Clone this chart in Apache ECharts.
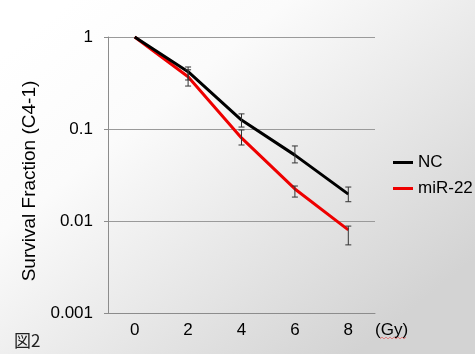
<!DOCTYPE html>
<html>
<head>
<meta charset="utf-8">
<script src="https://cdn.jsdelivr.net/npm/echarts@6/dist/echarts.min.js"></script>
<style>
  html, body { margin: 0; padding: 0; }
  #chart { width: 475px; height: 354px; }
</style>
</head>
<body>
<div id="chart"></div>
<script>
// dose (Gy)
const doses = ['0', '2', '4', '6', '8'];
// survival fraction
const ncMean = [1, 0.42, 0.125, 0.052, 0.0196];
const ncLow = [null, 0.341, 0.105, 0.0428, 0.0162];
const ncHigh = [null, 0.472, 0.146, 0.0654, 0.0234];
const mirMean = [1, 0.37, 0.08, 0.0223, 0.008];
const mirLow = [null, 0.293, 0.067, 0.0182, 0.0055];
const mirHigh = [null, 0.44, 0.0976, 0.024, 0.0088];

const font = 'Liberation Sans, Arial, sans-serif';

const errData = [];
doses.forEach((d, i) => {
    if (ncLow[i] != null) errData.push([i, ncLow[i], ncHigh[i]]);
    if (mirLow[i] != null) errData.push([i, mirLow[i], mirHigh[i]]);
});

// spell-check squiggle under "Gy"
const squiggle = [];
for (let x = 380, k = 0; x <= 407; x += 2, k++) {
    squiggle.push([x, k % 2 ? 337 : 339]);
}

const myChart = echarts.init(document.getElementById('chart'));
myChart.setOption({
    backgroundColor: new echarts.graphic.LinearGradient(0.15, 0, 0.75, 1, [
        { offset: 0, color: '#ffffff' },
        { offset: 0.3, color: '#fbfbfb' },
        { offset: 1, color: '#d3d3d3' }
    ]),
    animation: false,
    grid: {
        left: 108,
        right: 100,
        top: 37,
        bottom: 41
    },
    legend: {
        orient: 'vertical',
        left: 388,
        top: 149,
        itemGap: 9,
        itemWidth: 20,
        itemHeight: 3,
        icon: 'rect',
        textStyle: { fontFamily: font, fontSize: 17, color: '#000' },
        data: ['NC', 'miR-22']
    },
    xAxis: {
        type: 'category',
        data: doses,
        boundaryGap: true,
        axisLine: { lineStyle: { color: '#8c8c8c', width: 1 } },
        axisTick: { show: false },
        axisLabel: { fontFamily: font, fontSize: 17, color: '#000', margin: 9 }
    },
    yAxis: {
        type: 'log',
        logBase: 10,
        min: 0.001,
        max: 1,
        name: 'Survival Fraction (C4-1)',
        nameLocation: 'middle',
        nameGap: 64,
        nameTextStyle: { fontFamily: font, fontSize: 19, color: '#000', padding: [0, 12, 0, 0] },
        axisLine: { show: true, lineStyle: { color: '#8c8c8c' } },
        axisTick: { show: true, length: 4, lineStyle: { color: '#8c8c8c' } },
        splitLine: { lineStyle: { color: '#9a9a9a' } },
        axisLabel: {
            fontFamily: font, fontSize: 17, color: '#000', margin: 15,
            formatter: v => String(+v.toPrecision(3))
        }
    },
    series: [
        {
            name: 'NC',
            type: 'line',
            data: ncMean,
            symbol: 'none',
            lineStyle: { color: '#000', width: 3 },
            itemStyle: { color: '#000' },
            z: 3
        },
        {
            name: 'miR-22',
            type: 'line',
            data: mirMean,
            symbol: 'none',
            lineStyle: { color: '#ee0000', width: 3 },
            itemStyle: { color: '#ee0000' },
            z: 2
        },
        {
            type: 'custom',
            data: errData,
            z: 5,
            renderItem: (params, api) => {
                const lo = api.coord([api.value(0), api.value(1)]);
                const hi = api.coord([api.value(0), api.value(2)]);
                const w = 3;
                const style = { stroke: '#333', lineWidth: 1 };
                return {
                    type: 'group',
                    children: [
                        { type: 'line', shape: { x1: lo[0], y1: lo[1], x2: hi[0], y2: hi[1] }, style },
                        { type: 'line', shape: { x1: lo[0] - w, y1: lo[1], x2: lo[0] + w, y2: lo[1] }, style },
                        { type: 'line', shape: { x1: hi[0] - w, y1: hi[1], x2: hi[0] + w, y2: hi[1] }, style }
                    ]
                };
            }
        }
    ],
    graphic: [
        {
            type: 'text', left: 375, top: 322,
            style: { text: '(Gy)', fontFamily: font, fontSize: 17, fill: '#000' }
        },
        {
            type: 'polyline',
            shape: { points: squiggle },
            style: { stroke: '#e08080', lineWidth: 1, fill: null }
        },
        {
            type: 'text', left: 14, top: 332,
            style: { text: '図2', fontFamily: 'Noto Sans CJK JP', fontSize: 17, fill: '#222' }
        }
    ]
});
</script>
</body>
</html>
